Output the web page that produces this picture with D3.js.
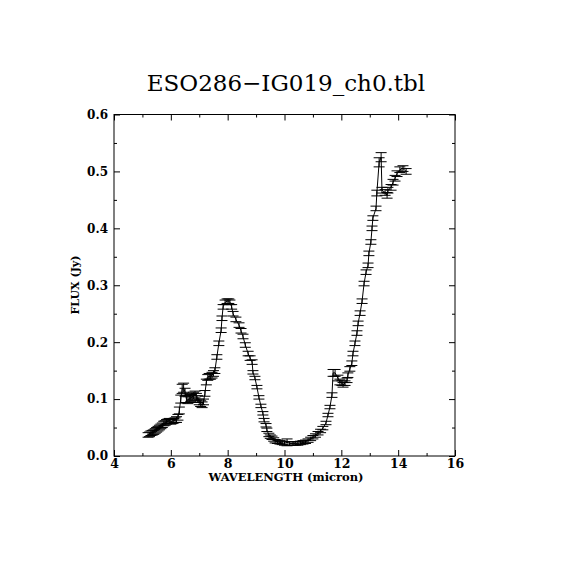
<!DOCTYPE html>
<html>
<head>
<meta charset="utf-8">
<script src="https://cdn.jsdelivr.net/npm/d3@7"></script>
<style>
  body { margin: 0; background: #fff; }
  svg text { fill: #000; }
</style>
</head>
<body>
<div id="chart"></div>
<script>
const title = 'ESO286\u2212IG019_ch0.tbl';
const xLabel = 'WAVELENGTH (micron)';
const yLabel = 'FLUX (Jy)';

const xTicks = [4, 6, 8, 10, 12, 14, 16];
const xMinorTicks = [5, 7, 9, 11, 13, 15];
const yTicks = [0, 0.1, 0.2, 0.3, 0.4, 0.5, 0.6];
const yMinorTicks = [0.05, 0.15, 0.25, 0.35, 0.45, 0.55];

// spectrum: wavelength (micron), flux (Jy), error (Jy)
const wavelength = [
  5.20, 5.25, 5.30, 5.35, 5.40, 5.45, 5.50, 5.55, 5.60, 5.65,
  5.70, 5.75, 5.80, 5.85, 5.90, 5.95, 6.00, 6.05, 6.10, 6.15,
  6.20, 6.25, 6.30, 6.35, 6.40, 6.45, 6.50, 6.55, 6.60, 6.65,
  6.70, 6.75, 6.80, 6.85, 6.90, 6.95, 7.00, 7.05, 7.10, 7.15,
  7.20, 7.25, 7.30, 7.35, 7.40, 7.45, 7.50, 7.55,
  7.62, 7.69, 7.77, 7.80, 7.84, 7.91, 7.98, 8.04, 8.08, 8.14,
  8.19, 8.29, 8.40, 8.47, 8.54, 8.62, 8.72, 8.79, 8.86, 8.89,
  8.96, 9.03, 9.10, 9.17, 9.24, 9.28, 9.35, 9.38, 9.45, 9.50,
  9.56, 9.62, 9.67, 9.75, 9.84, 9.92, 10.00, 10.09, 10.18, 10.30,
  10.38, 10.47, 10.56, 10.65, 10.74, 10.83, 10.92, 11.00, 11.09, 11.18,
  11.27, 11.35, 11.46, 11.53, 11.60, 11.67, 11.71, 11.78, 11.88, 11.95,
  12.02, 12.06, 12.13, 12.20, 12.23, 12.30, 12.37, 12.41, 12.48, 12.55,
  12.59, 12.66, 12.73, 12.80, 12.87, 12.94, 12.97, 13.04, 13.08, 13.11,
  13.22, 13.25, 13.33, 13.40, 13.43, 13.54, 13.61, 13.64, 13.75, 13.82,
  13.89, 13.96, 14.06, 14.17, 14.28
];
const flux = [
  0.037, 0.038, 0.040, 0.041, 0.042, 0.044, 0.046, 0.048, 0.050, 0.052,
  0.054, 0.057, 0.058, 0.060, 0.061, 0.062, 0.060, 0.061, 0.062, 0.063,
  0.064, 0.068, 0.080, 0.100, 0.118, 0.120, 0.112, 0.100, 0.098, 0.100,
  0.102, 0.104, 0.106, 0.108, 0.104, 0.100, 0.095, 0.092, 0.090, 0.095,
  0.110, 0.130, 0.138, 0.140, 0.140, 0.142, 0.145, 0.150,
  0.174, 0.198, 0.221, 0.242, 0.262, 0.270, 0.272, 0.272, 0.270, 0.262,
  0.250, 0.240, 0.230, 0.220, 0.210, 0.195, 0.180, 0.172, 0.165, 0.147,
  0.137, 0.121, 0.103, 0.088, 0.075, 0.063, 0.054, 0.046, 0.037, 0.034,
  0.032, 0.029, 0.026, 0.025, 0.024, 0.023, 0.022, 0.024, 0.022, 0.022,
  0.022, 0.022, 0.023, 0.024, 0.025, 0.027, 0.030, 0.033, 0.036, 0.040,
  0.044, 0.049, 0.058, 0.072, 0.086, 0.107, 0.146, 0.146, 0.137, 0.130,
  0.128, 0.125, 0.128, 0.133, 0.142, 0.153, 0.163, 0.180, 0.198, 0.216,
  0.233, 0.251, 0.272, 0.303, 0.323, 0.335, 0.356, 0.376, 0.400, 0.418,
  0.435, 0.462, 0.516, 0.525, 0.467, 0.463, 0.458, 0.467, 0.472, 0.481,
  0.488, 0.496, 0.503, 0.505, 0.500
];
const fluxError = [
  0.004, 0.004, 0.004, 0.004, 0.004, 0.004, 0.004, 0.004, 0.004, 0.004,
  0.004, 0.004, 0.004, 0.004, 0.004, 0.004, 0.004, 0.004, 0.004, 0.004,
  0.005, 0.005, 0.006, 0.007, 0.008, 0.008, 0.007, 0.006, 0.006, 0.006,
  0.006, 0.006, 0.006, 0.006, 0.006, 0.006, 0.005, 0.005, 0.005, 0.005,
  0.005, 0.005, 0.005, 0.005, 0.005, 0.005, 0.005, 0.005,
  0.004, 0.004, 0.004, 0.004, 0.004, 0.004, 0.004, 0.004, 0.004, 0.004,
  0.004, 0.004, 0.004, 0.004, 0.004, 0.004, 0.004, 0.004, 0.004, 0.003,
  0.003, 0.003, 0.003, 0.003, 0.003, 0.003, 0.003, 0.003, 0.003, 0.003,
  0.003, 0.003, 0.003, 0.003, 0.003, 0.003, 0.003, 0.006, 0.003, 0.003,
  0.003, 0.003, 0.003, 0.003, 0.003, 0.003, 0.003, 0.003, 0.003, 0.003,
  0.003, 0.003, 0.003, 0.003, 0.003, 0.004, 0.006, 0.006, 0.005, 0.005,
  0.004, 0.004, 0.004, 0.004, 0.004, 0.004, 0.004, 0.004, 0.004, 0.004,
  0.004, 0.004, 0.004, 0.004, 0.004, 0.004, 0.004, 0.004, 0.004, 0.004,
  0.004, 0.005, 0.008, 0.008, 0.005, 0.005, 0.005, 0.005, 0.005, 0.005,
  0.005, 0.005, 0.005, 0.005, 0.005
];

const points = wavelength.map((w, i) => ({ w, f: flux[i], e: fluxError[i] }));

const width = 570, height = 570;
const xLeft = 114, xRight = 455, yTop = 114.5, yBottom = 456;
const capHalf = 5.5;

const svg = d3.select('#chart')
  .append('svg')
  .attr('width', width)
  .attr('height', height);

const xScale = d3.scaleLinear().domain([4, 16]).range([xLeft, xRight]);
const yScale = d3.scaleLinear().domain([0, 0.6]).range([yBottom, yTop]);

const fontTick = '"DejaVu Serif", serif';

// axes with inward ticks on all four sides
function addAxis(axis, tx, ty, ticks, size, labels) {
  const g = svg.append('g')
    .attr('transform', `translate(${tx}, ${ty})`)
    .call(axis.tickValues(ticks).tickSizeInner(-size).tickSizeOuter(0)
      .tickFormat(labels ? d3.format('.1f') : ''))
  g.select('.domain').remove();
  g.selectAll('line').attr('stroke', '#000').attr('stroke-width', 1);
  return g;
}

const gx = addAxis(d3.axisBottom(xScale), 0, yBottom, xTicks, 6, true);
gx.selectAll('text').text(d => d).attr('y', 12).attr('dy', 0)
  .style('font-family', fontTick).style('font-size', '12.5px').style('font-weight', 'bold');
addAxis(d3.axisBottom(xScale), 0, yBottom, xMinorTicks, 3, false);
addAxis(d3.axisTop(xScale), 0, yTop, xTicks, 6, false);
addAxis(d3.axisTop(xScale), 0, yTop, xMinorTicks, 3, false);

const gy = addAxis(d3.axisLeft(yScale), xLeft, 0, yTicks, 6, true);
gy.selectAll('text').attr('x', -6)
  .style('font-family', fontTick).style('font-size', '12px').style('font-weight', 'bold');
addAxis(d3.axisLeft(yScale), xLeft, 0, yMinorTicks, 3, false);
addAxis(d3.axisRight(yScale), xRight, 0, yTicks, 6, false);
addAxis(d3.axisRight(yScale), xRight, 0, yMinorTicks, 3, false);

svg.append('rect')
  .attr('x', xLeft).attr('y', yTop)
  .attr('width', xRight - xLeft).attr('height', yBottom - yTop)
  .attr('fill', 'none').attr('stroke', '#000').attr('stroke-width', 1);

// spectrum line
const lineMaker = d3.line()
  .x(d => xScale(d.w))
  .y(d => yScale(d.f));

svg.append('path')
  .datum(points)
  .attr('d', lineMaker)
  .attr('fill', 'none')
  .attr('stroke', '#000')
  .attr('stroke-width', 1);

// error bars
const gErr = svg.append('g').attr('stroke', '#000').attr('stroke-width', 1);
const bars = gErr.selectAll('g')
  .data(points)
  .enter()
  .append('g');

bars.append('line')
  .attr('x1', d => xScale(d.w)).attr('x2', d => xScale(d.w))
  .attr('y1', d => yScale(d.f - d.e)).attr('y2', d => yScale(d.f + d.e));
bars.append('line')
  .attr('x1', d => xScale(d.w) - capHalf).attr('x2', d => xScale(d.w) + capHalf)
  .attr('y1', d => yScale(d.f + d.e)).attr('y2', d => yScale(d.f + d.e));
bars.append('line')
  .attr('x1', d => xScale(d.w) - capHalf).attr('x2', d => xScale(d.w) + capHalf)
  .attr('y1', d => yScale(d.f - d.e)).attr('y2', d => yScale(d.f - d.e));

// titles
svg.append('text')
  .attr('x', 286).attr('y', 91)
  .attr('text-anchor', 'middle')
  .style('font-family', '"DejaVu Serif", serif')
  .style('font-size', '23px')
  .text(title);

svg.append('text')
  .attr('x', 286).attr('y', 481)
  .attr('text-anchor', 'middle')
  .style('font-family', fontTick).style('font-size', '11.5px').style('font-weight', 'bold')
  .text(xLabel);

svg.append('text')
  .attr('transform', `translate(79, 285) rotate(-90)`)
  .attr('text-anchor', 'middle')
  .style('font-family', fontTick).style('font-size', '11px').style('font-weight', 'bold')
  .text(yLabel);
</script>
</body>
</html>
